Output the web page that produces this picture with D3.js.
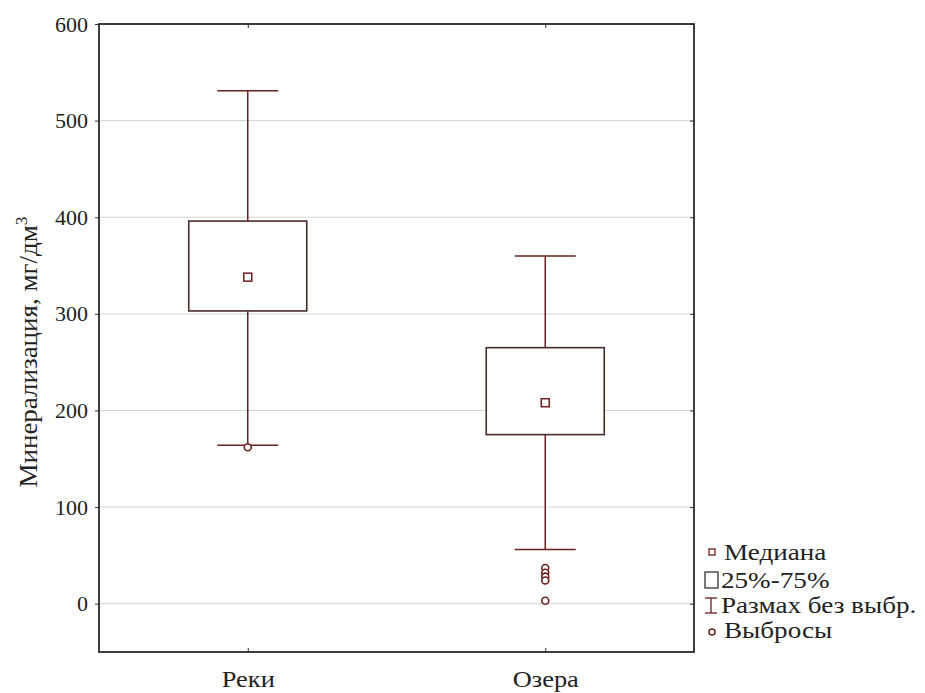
<!DOCTYPE html>
<html>
<head>
<meta charset="utf-8">
<script src="https://cdn.jsdelivr.net/npm/d3@7"></script>
<style>
  body { margin: 0; background: #fff; }
  text { font-family: "Liberation Serif", "Times New Roman", serif; fill: #222; }
</style>
</head>
<body>
<svg id="drawspace" width="925" height="693"></svg>
<script>
// data
let categories = ["Реки", "Озера"];
let whiskerLow = [164, 56];
let q1 = [303, 175];
let median = [338, 208];
let q3 = [396, 265];
let whiskerHigh = [531, 360];
let outliers = [[162], [37, 32, 28, 24, 3]];
let yTicks = [0, 100, 200, 300, 400, 500, 600];
let legendLabels = ["Медиана", "25%-75%", "Размах без выбр.", "Выбросы"];

let ds = d3.select("#drawspace");
let pLeft = 99, pTop = 24, pRight = 694, pBottom = 652;
let dark = "#6e1f1f";
let boxCol = "#4a2b2b";

let yscale = d3.scaleLinear().domain([-50, 600]).range([pBottom, pTop]);
let xscale = d3.scalePoint().domain(categories).range([pLeft, pRight]).padding(0.5);

// grid
ds.append("g").selectAll("line").data(yTicks).enter().append("line")
  .attr("x1", pLeft).attr("x2", pRight)
  .attr("y1", d => yscale(d)).attr("y2", d => yscale(d))
  .attr("stroke", "#d4d4d4").attr("stroke-width", 1);

// axes
let yAxis = ds.append("g").attr("transform", "translate(" + pLeft + ",0)")
  .call(d3.axisLeft(yscale).tickValues(yTicks).tickSize(4).tickPadding(7));
yAxis.select(".domain").remove();
yAxis.selectAll("text").style("font-size", "22px").style("font-family", "Liberation Serif").attr("fill", "#222");
yAxis.selectAll("line").attr("stroke", "#333");

let yAxisR = ds.append("g").attr("transform", "translate(" + pRight + ",0)")
  .call(d3.axisRight(yscale).tickValues(yTicks).tickSize(-4).tickFormat(""));
yAxisR.select(".domain").remove();
yAxisR.selectAll("line").attr("stroke", "#333");

let xAxis = ds.append("g").attr("transform", "translate(0," + pBottom + ")")
  .call(d3.axisBottom(xscale).tickSize(-4).tickPadding(18));
xAxis.select(".domain").remove();
xAxis.selectAll("text").style("font-size", "24px").style("font-family", "Liberation Serif")
  .attr("fill", "#222").attr("transform", "scale(1.1,1)");
xAxis.selectAll("line").attr("stroke", "#333");

let xAxisT = ds.append("g").attr("transform", "translate(0," + pTop + ")")
  .call(d3.axisTop(xscale).tickSize(-4).tickFormat(""));
xAxisT.select(".domain").remove();
xAxisT.selectAll("line").attr("stroke", "#333");

// frame
ds.append("rect").attr("x", pLeft).attr("y", pTop)
  .attr("width", pRight - pLeft).attr("height", pBottom - pTop)
  .attr("fill", "none").attr("stroke", "#2a2a2a").attr("stroke-width", 1.8);

// y title
ds.append("text")
  .attr("transform", "translate(37,352) rotate(-90) scale(1.08,1)")
  .attr("text-anchor", "middle")
  .style("font-size", "25px")
  .text("Минерализация, мг/дм")
  .append("tspan").attr("dy", -10).style("font-size", "16px").text("3");

let boxW = 118, capW = 61;
let boxes = ds.append("g").selectAll("g").data(categories).enter().append("g");

// whiskers
boxes.append("line")
  .attr("x1", d => xscale(d)).attr("x2", d => xscale(d))
  .attr("y1", (d, i) => yscale(whiskerHigh[i])).attr("y2", (d, i) => yscale(q3[i]))
  .attr("stroke", dark).attr("stroke-width", 1.5);
boxes.append("line")
  .attr("x1", d => xscale(d)).attr("x2", d => xscale(d))
  .attr("y1", (d, i) => yscale(q1[i])).attr("y2", (d, i) => yscale(whiskerLow[i]))
  .attr("stroke", dark).attr("stroke-width", 1.5);
boxes.append("line")
  .attr("x1", d => xscale(d) - capW / 2).attr("x2", d => xscale(d) + capW / 2)
  .attr("y1", (d, i) => yscale(whiskerHigh[i])).attr("y2", (d, i) => yscale(whiskerHigh[i]))
  .attr("stroke", dark).attr("stroke-width", 1.5);
boxes.append("line")
  .attr("x1", d => xscale(d) - capW / 2).attr("x2", d => xscale(d) + capW / 2)
  .attr("y1", (d, i) => yscale(whiskerLow[i])).attr("y2", (d, i) => yscale(whiskerLow[i]))
  .attr("stroke", dark).attr("stroke-width", 1.5);

// box
boxes.append("rect")
  .attr("x", d => xscale(d) - boxW / 2).attr("width", boxW)
  .attr("y", (d, i) => yscale(q3[i]))
  .attr("height", (d, i) => yscale(q1[i]) - yscale(q3[i]))
  .attr("fill", "#fff").attr("stroke", boxCol).attr("stroke-width", 1.6);

// median
boxes.append("rect")
  .attr("x", d => xscale(d) - 4).attr("width", 8)
  .attr("y", (d, i) => yscale(median[i]) - 4).attr("height", 8)
  .attr("fill", "#fff").attr("stroke", dark).attr("stroke-width", 1.5);

// outliers
boxes.each(function (d, i) {
  d3.select(this).selectAll("circle").data(outliers[i]).enter().append("circle")
    .attr("cx", xscale(d)).attr("cy", v => yscale(v)).attr("r", 3.5)
    .attr("fill", "#fff").attr("stroke", dark).attr("stroke-width", 1.6);
});

// legend
let lx = 712, ly = [552, 580, 605, 630];
let lg = ds.append("g");
lg.append("rect").attr("x", lx - 3).attr("y", ly[0] - 3).attr("width", 6).attr("height", 6)
  .attr("fill", "#fff").attr("stroke", dark).attr("stroke-width", 1.3);
lg.append("rect").attr("x", lx - 7).attr("y", ly[1] - 8).attr("width", 13).attr("height", 16)
  .attr("fill", "#fff").attr("stroke", "#333").attr("stroke-width", 1.3);
lg.append("line").attr("x1", lx - 1).attr("x2", lx - 1).attr("y1", ly[2] - 7).attr("y2", ly[2] + 8)
  .attr("stroke", dark).attr("stroke-width", 1.3);
lg.append("line").attr("x1", lx - 7).attr("x2", lx + 5).attr("y1", ly[2] - 7).attr("y2", ly[2] - 7)
  .attr("stroke", dark).attr("stroke-width", 1.3);
lg.append("line").attr("x1", lx - 7).attr("x2", lx + 5).attr("y1", ly[2] + 8).attr("y2", ly[2] + 8)
  .attr("stroke", dark).attr("stroke-width", 1.3);
lg.append("circle").attr("cx", lx).attr("cy", ly[3] + 2).attr("r", 3)
  .attr("fill", "#fff").attr("stroke", dark).attr("stroke-width", 1.5);
lg.selectAll("text").data(legendLabels).enter().append("text")
  .attr("transform", (d, i) => "translate(" + (i == 1 || i == 2 ? 721 : 724) + "," + (ly[i] + 8) + ") scale(1.18,1)")
  .style("font-size", "23px")
  .text(d => d);
</script>
</body>
</html>
